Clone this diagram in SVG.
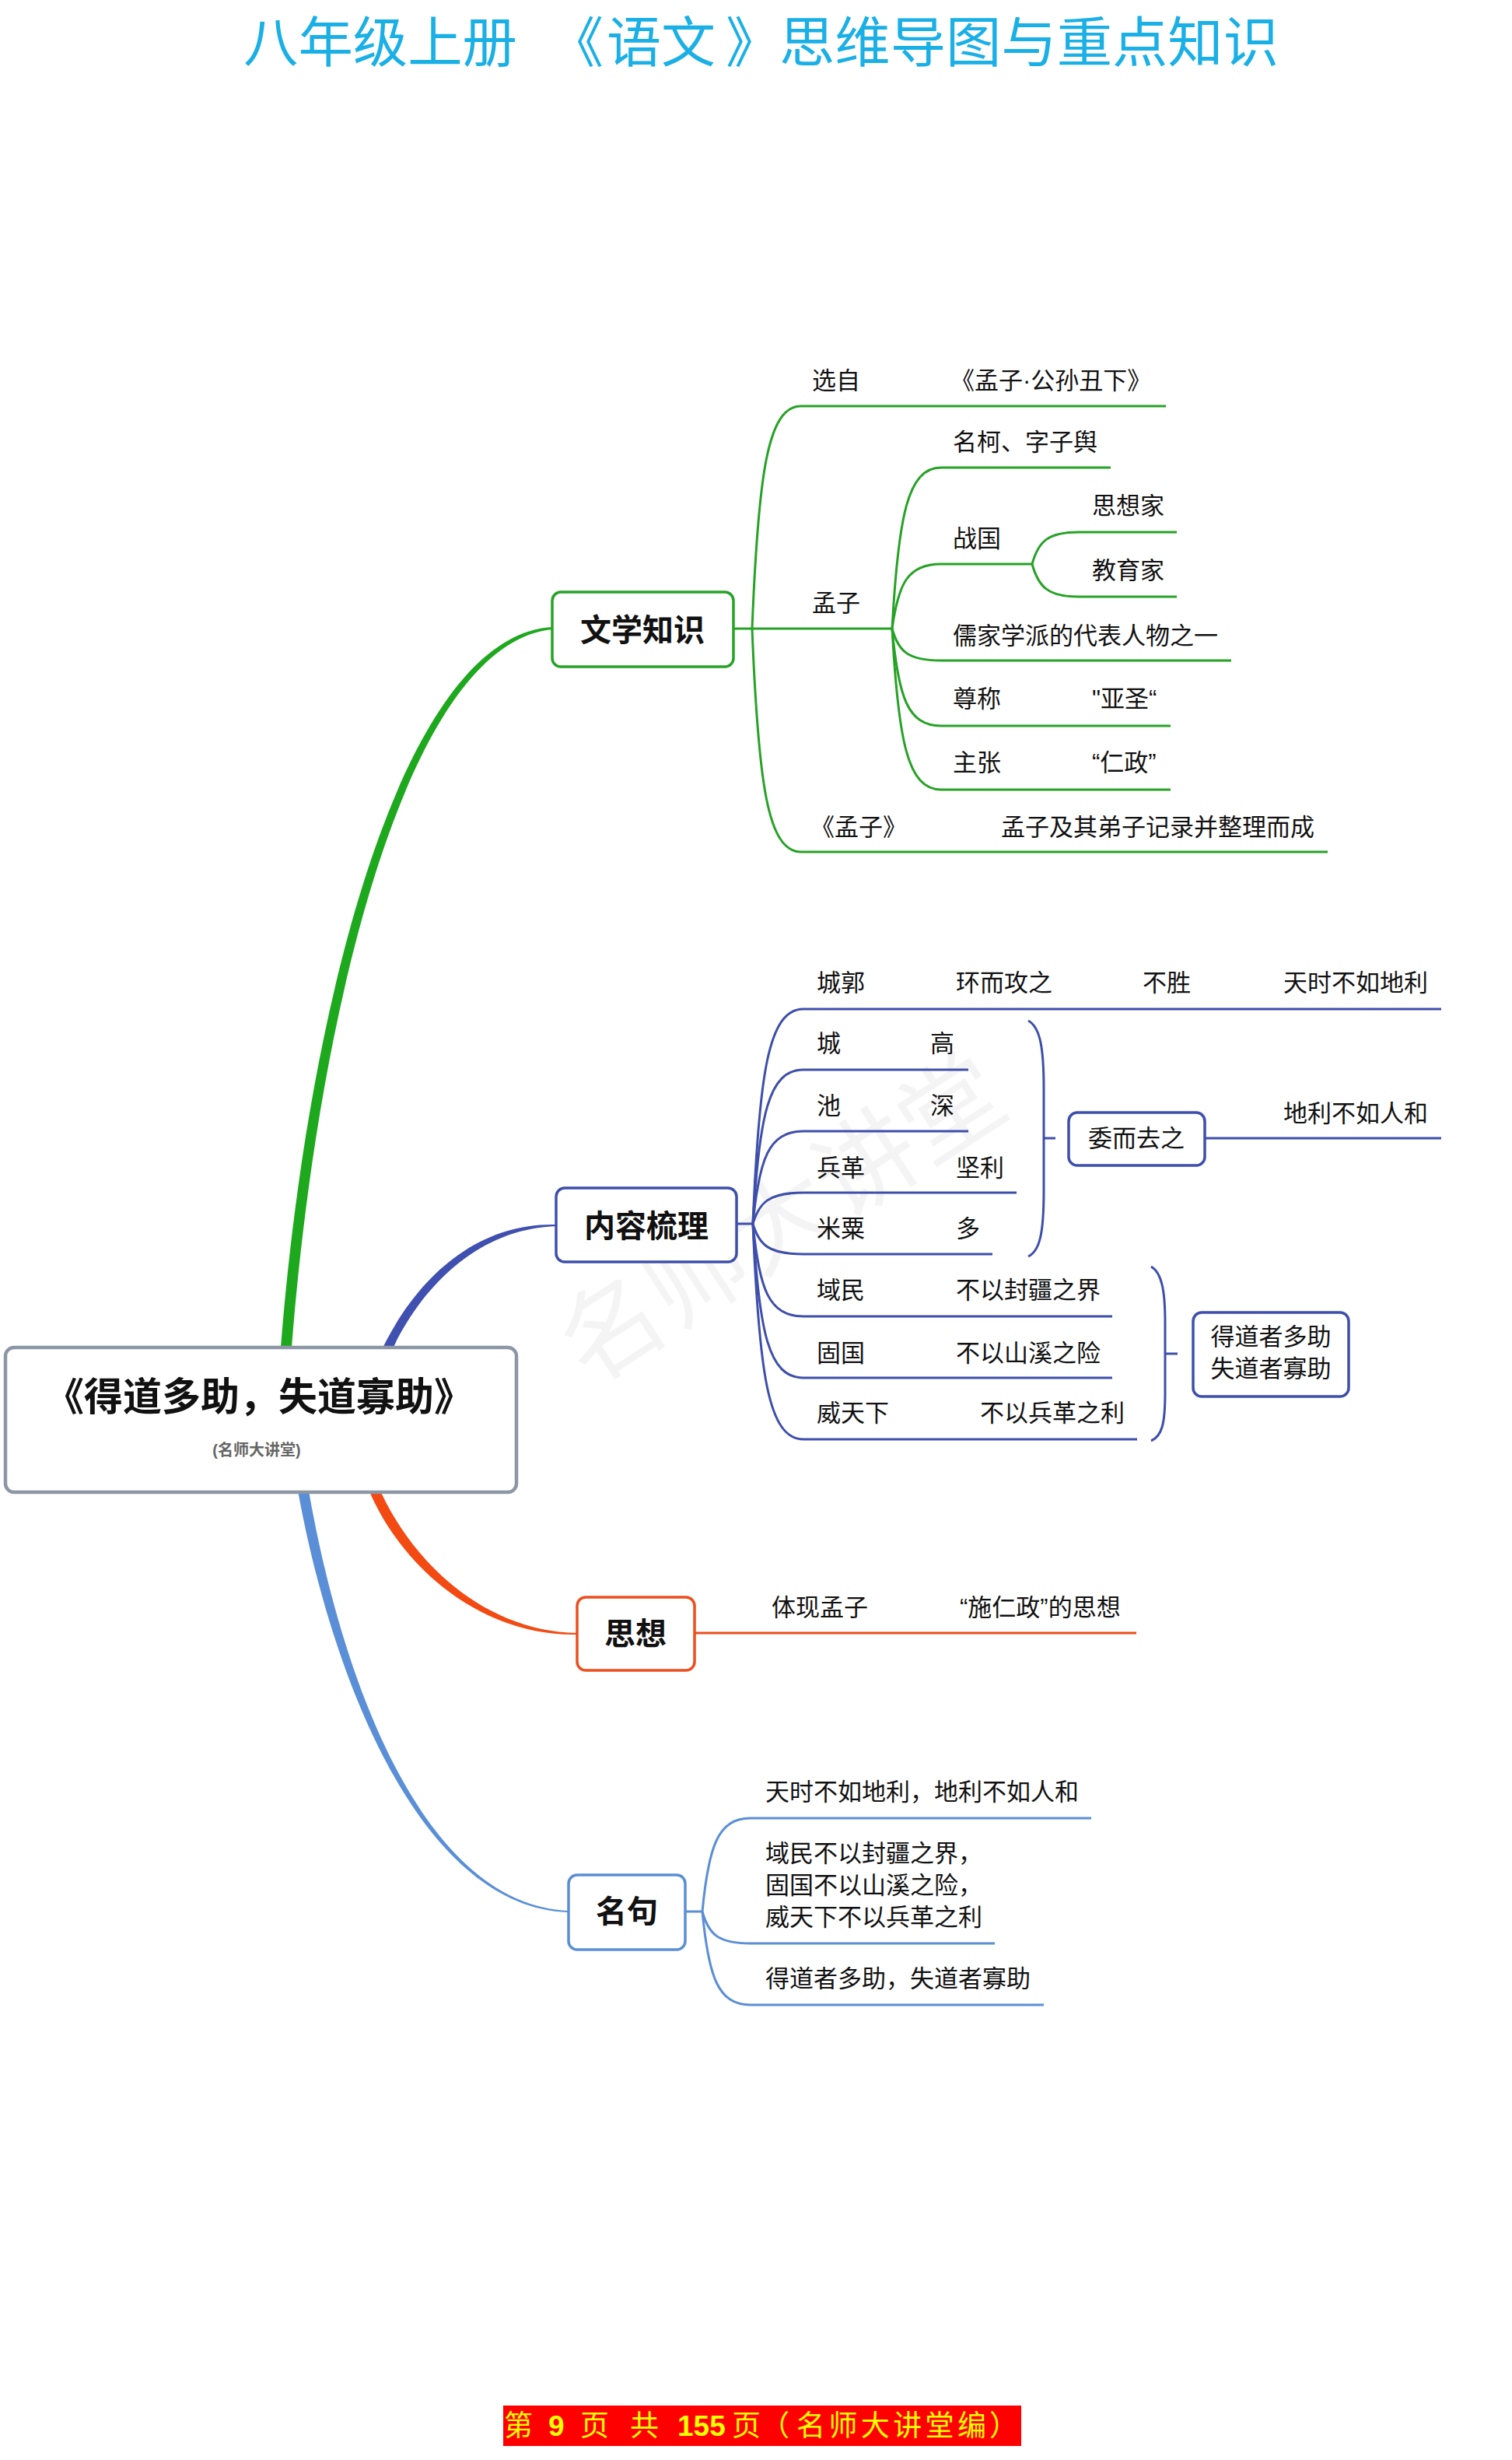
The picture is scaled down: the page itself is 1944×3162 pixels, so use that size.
<svg xmlns="http://www.w3.org/2000/svg" width="1944" height="3162" viewBox="0 0 1944 3162">
<style>
.t{font-family:"Liberation Sans","Noto Sans CJK SC",sans-serif;font-size:31px;fill:#111;transform:translateX(-3px)}
.h{font-family:"Liberation Sans","Noto Sans CJK SC",sans-serif;font-size:40px;font-weight:700;fill:#111;text-anchor:middle}
.m{text-anchor:middle}
.lg{fill:none;stroke:#26a226;stroke-width:3}
.lb{fill:none;stroke:#3e4fab;stroke-width:3}
.lo{fill:none;stroke:#ec4e1e;stroke-width:3}
.ll{fill:none;stroke:#5b8ed6;stroke-width:3}
.box{fill:#fff;stroke-width:3.5}
</style>
<rect width="1944" height="3162" fill="#fff"/>
<text x="1008" y="1612" transform="rotate(-33 1008 1572)" font-family="Noto Sans CJK SC,sans-serif" font-size="130" fill="#000" fill-opacity="0.045" text-anchor="middle">名师大讲堂</text>
<text font-family="Noto Sans CJK SC,sans-serif" font-size="70" fill="#1ab0e6" y="80"><tspan x="313" textLength="352" lengthAdjust="spacingAndGlyphs">八年级上册</tspan><tspan x="706">《</tspan><tspan x="780">语文</tspan><tspan x="933">》</tspan><tspan x="1002" textLength="642" lengthAdjust="spacingAndGlyphs">思维导图与重点知识</tspan></text>
<g id="connectors">
<path d="M360,1745 C393,1300 516,815 711,806 L711,809 C524,825 407,1301 374,1745 Z" fill="#1ea81e"/>
<path d="M486,1745 C536,1636 618,1571 716,1574 L716,1576 C622,1579 544,1644 498,1748 Z" fill="#3f50b0"/>
<path d="M484,1905 C526,2006 622,2097 742,2099 L742,2101 C618,2103 514,2014 472,1910 Z" fill="#f24a12"/>
<path d="M395,1905 C436,2149 541,2448 731,2456 L731,2458 C539,2452 424,2151 381,1905 Z" fill="#5a8fd8"/>
<path class="lg" d="M943,808 L1147,808"/>
<path class="lg" d="M967,808 C975,608 987,522 1030,522 L1499,522"/>
<path class="lg" d="M967,808 C975,1008 987,1095 1030,1095 L1707,1095"/>
<path class="lg" d="M1147,808 C1155,663 1167,601 1210,601 L1428,601"/>
<path class="lg" d="M1147,808 C1155,750 1167,725 1210,725 L1327,725"/>
<path class="lg" d="M1147,808 C1155,837 1167,849 1210,849 L1583,849"/>
<path class="lg" d="M1147,808 C1155,896 1167,933 1210,933 L1505,933"/>
<path class="lg" d="M1147,808 C1155,953 1167,1015 1210,1015 L1505,1015"/>
<path class="lg" d="M1327,725 C1335,696 1347,684 1387,684 L1513,684"/>
<path class="lg" d="M1327,725 C1335,754 1347,767 1387,767 L1513,767"/>
<path class="lb" d="M947,1573 L968,1573"/>
<path class="lb" d="M968,1573 C976,1379 988,1297 1033,1297 L1853,1297"/>
<path class="lb" d="M968,1573 C976,1434 988,1375 1033,1375 L1245,1375"/>
<path class="lb" d="M968,1573 C976,1490 988,1454 1033,1454 L1245,1454"/>
<path class="lb" d="M968,1573 C976,1546 988,1533 1033,1533 L1307,1533"/>
<path class="lb" d="M968,1573 C976,1600 988,1612 1033,1612 L1276,1612"/>
<path class="lb" d="M968,1573 C976,1656 988,1692 1033,1692 L1430,1692"/>
<path class="lb" d="M968,1573 C976,1712 988,1771 1033,1771 L1430,1771"/>
<path class="lb" d="M968,1573 C976,1767 988,1850 1033,1850 L1462,1850"/>
<path class="lb" d="M1322,1312 C1337,1320 1342,1345 1342,1400 L1342,1530 C1342,1585 1337,1608 1322,1615"/>
<path class="lb" d="M1342,1463 L1357,1463"/>
<path class="lb" d="M1549,1463 L1853,1463"/>
<path class="lb" d="M1480,1628 C1494,1636 1498,1660 1498,1700 L1498,1790 C1498,1830 1494,1846 1480,1852"/>
<path class="lb" d="M1498,1740 L1514,1740"/>
<path class="lo" d="M893,2099 L1461,2099"/>
<path class="ll" d="M881,2457 L903,2457"/>
<path class="ll" d="M903,2457 C911,2373 923,2337 965,2337 L1403,2337"/>
<path class="ll" d="M903,2457 C911,2486 923,2498 965,2498 L1279,2498"/>
<path class="ll" d="M903,2457 C911,2541 923,2577 965,2577 L1342,2577"/>
</g>
<g id="central">
<rect x="7" y="1732" width="657" height="186" rx="11" fill="#fff" stroke="#8d96a5" stroke-width="4.5"/>
<text class="h" x="333" y="1813" style="font-size:50px">《得道多助，失道寡助》</text>
<text class="h" x="330" y="1871" style="font-size:20px;fill:#666">(名师大讲堂)</text>
</g>
<g id="n-wenxue">
<rect class="box" x="710" y="761" width="233" height="96" rx="11" stroke="#26a226"/>
<text class="h" x="826" y="824">文学知识</text>
<text class="t" x="1047" y="500">选自</text>
<text class="t" x="1225" y="500">《孟子·公孙丑下》</text>
<text class="t" x="1047" y="786">孟子</text>
<text class="t" x="1228" y="579">名柯、字子舆</text>
<text class="t" x="1228" y="703">战国</text>
<text class="t" x="1407" y="661">思想家</text>
<text class="t" x="1407" y="744">教育家</text>
<text class="t" x="1228" y="828">儒家学派的代表人物之一</text>
<text class="t" x="1228" y="909">尊称</text>
<text class="t" x="1407" y="909">"亚圣“</text>
<text class="t" x="1228" y="991">主张</text>
<text class="t" x="1407" y="991">“仁政”</text>
<text class="t" x="1045" y="1074">《孟子》</text>
<text class="t" x="1290" y="1074">孟子及其弟子记录并整理而成</text>
</g>
<g id="n-neirong">
<rect class="box" x="715" y="1527" width="232" height="95" rx="11" stroke="#3e4fab"/>
<text class="h" x="831" y="1590">内容梳理</text>
<text class="t" x="1053" y="1274">城郭</text>
<text class="t" x="1232" y="1274">环而攻之</text>
<text class="t" x="1472" y="1274">不胜</text>
<text class="t" x="1653" y="1274">天时不如地利</text>
<text class="t" x="1053" y="1352">城</text>
<text class="t" x="1199" y="1352">高</text>
<text class="t" x="1053" y="1432">池</text>
<text class="t" x="1199" y="1432">深</text>
<text class="t" x="1053" y="1512">兵革</text>
<text class="t" x="1232" y="1512">坚利</text>
<text class="t" x="1053" y="1590">米粟</text>
<text class="t" x="1232" y="1590">多</text>
<text class="t" x="1053" y="1669">域民</text>
<text class="t" x="1232" y="1669">不以封疆之界</text>
<text class="t" x="1053" y="1750">固国</text>
<text class="t" x="1232" y="1750">不以山溪之险</text>
<text class="t" x="1053" y="1827">威天下</text>
<text class="t" x="1263" y="1827">不以兵革之利</text>
<text class="t" x="1653" y="1442">地利不如人和</text>
</g>
<g id="n-weier">
<rect class="box" x="1374" y="1430" width="175" height="68" rx="11" stroke="#3e4fab"/>
<text class="t m" x="1464" y="1474">委而去之</text>
</g>
<g id="n-dedao">
<rect class="box" x="1534" y="1687" width="200" height="108" rx="11" stroke="#3e4fab"/>
<text class="t m" x="1637" y="1729">得道者多助</text>
<text class="t m" x="1637" y="1770">失道者寡助</text>
</g>
<g id="n-sixiang">
<rect class="box" x="742" y="2053" width="151" height="94" rx="11" stroke="#ec4e1e"/>
<text class="h" x="817" y="2114">思想</text>
<text class="t" x="995" y="2077">体现孟子</text>
<text class="t" x="1237" y="2077">“施仁政”的思想</text>
</g>
<g id="n-mingju">
<rect class="box" x="731" y="2410" width="150" height="96" rx="11" stroke="#5b8ed6"/>
<text class="h" x="806" y="2471">名句</text>
<text class="t" x="987" y="2314">天时不如地利，地利不如人和</text>
<text class="t" x="987" y="2393">域民不以封疆之界，</text>
<text class="t" x="987" y="2434">固国不以山溪之险，</text>
<text class="t" x="987" y="2475">威天下不以兵革之利</text>
<text class="t" x="987" y="2554">得道者多助，失道者寡助</text>
</g>
<g id="footer">
<rect x="647" y="3092" width="666" height="52" fill="#ff0000"/>
<text font-family="Liberation Serif,Noto Sans CJK SC,serif" font-size="37" fill="#ffff00" y="3131"><tspan x="648">第</tspan><tspan x="705" font-weight="700" font-family="Liberation Sans,sans-serif">9</tspan><tspan x="746">页</tspan><tspan x="810">共</tspan><tspan x="871" font-weight="700" font-family="Liberation Sans,sans-serif">155</tspan><tspan x="941">页</tspan><tspan x="978">（</tspan><tspan x="1024" textLength="244" lengthAdjust="spacing">名师大讲堂编</tspan><tspan x="1272">）</tspan></text>
</g>
</svg>
